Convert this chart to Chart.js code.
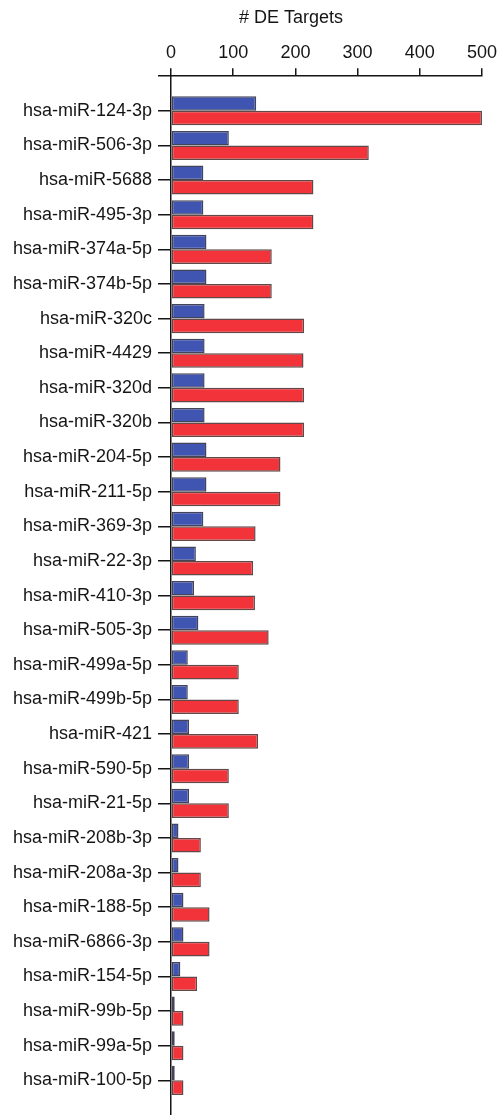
<!DOCTYPE html>
<html>
<head>
<meta charset="utf-8">
<script src="https://cdn.jsdelivr.net/npm/chart.js@4"></script>
<style>
  html, body { margin: 0; padding: 0; background: #fff; }
  #wrap { width: 501px; height: 1115px; position: relative; }
</style>
</head>
<body>
<div id="wrap"><canvas id="deChart"></canvas></div>
<script>
// --- data ---
const mirLabels = ['hsa-miR-124-3p', 'hsa-miR-506-3p', 'hsa-miR-5688', 'hsa-miR-495-3p', 'hsa-miR-374a-5p',
    'hsa-miR-374b-5p', 'hsa-miR-320c', 'hsa-miR-4429', 'hsa-miR-320d', 'hsa-miR-320b', 'hsa-miR-204-5p',
    'hsa-miR-211-5p', 'hsa-miR-369-3p', 'hsa-miR-22-3p', 'hsa-miR-410-3p', 'hsa-miR-505-3p', 'hsa-miR-499a-5p',
    'hsa-miR-499b-5p', 'hsa-miR-421', 'hsa-miR-590-5p', 'hsa-miR-21-5p', 'hsa-miR-208b-3p', 'hsa-miR-208a-3p',
    'hsa-miR-188-5p', 'hsa-miR-6866-3p', 'hsa-miR-154-5p', 'hsa-miR-99b-5p', 'hsa-miR-99a-5p', 'hsa-miR-100-5p'];
const blueValues = [137, 93, 52, 52, 57, 57, 54, 54, 54, 54, 57, 57, 52, 40, 37, 44, 27, 27, 29, 29, 29, 12, 12, 20, 20, 15, 6, 6, 6];
const redValues = [500, 318, 229, 229, 162, 162, 214, 213, 214, 214, 176, 176, 136, 132, 135, 157, 109, 109, 140, 93, 93, 48, 48, 62, 62, 42, 20, 20, 20];
const xTicks = [0, 100, 200, 300, 400, 500];
const axisTitle = '# DE Targets';

const FONT = "'Liberation Sans', Arial, Helvetica, sans-serif";
const INK = '#151515';

// bars sit on a numeric row axis so there is a blank row above and below, as in the figure
const toPoints = vals => vals.map((v, i) => ({ x: v, y: i }));

const ctx = document.getElementById('deChart').getContext('2d');
const deChart = new Chart(ctx, {
    type: 'bar',
    data: {
        datasets: [
            {
                label: 'blue',
                data: toPoints(blueValues),
                backgroundColor: '#4054b2',
                borderColor: 'rgba(35,35,60,0.85)',
                borderWidth: 1.5,
                borderSkipped: false
            },
            {
                label: 'red',
                data: toPoints(redValues),
                backgroundColor: '#f2343a',
                borderColor: 'rgba(70,40,40,0.85)',
                borderWidth: 1.5,
                borderSkipped: false
            }
        ]
    },
    options: {
        indexAxis: 'y',
        responsive: true,
        maintainAspectRatio: false,
        animation: false,
        layout: { padding: { left: 98, right: 17, top: 0, bottom: 0 } },
        datasets: { bar: { categoryPercentage: 0.84, barPercentage: 1.0 } },
        plugins: {
            legend: { display: false },
            tooltip: { enabled: false },
            title: {
                display: true,
                text: axisTitle,
                color: INK,
                font: { family: FONT, size: 18, weight: 'normal' },
                padding: { top: 7, bottom: 10 }
            }
        },
        scales: {
            x: {
                type: 'linear',
                position: 'top',
                min: 0,
                max: 500,
                afterBuildTicks: s => { s.ticks = xTicks.map(v => ({ value: v })); },
                ticks: { color: INK, font: { family: FONT, size: 18 }, padding: 4, maxRotation: 0 },
                grid: { drawOnChartArea: false, drawTicks: true, tickLength: 8, color: INK, lineWidth: 1.5 },
                border: { display: true, color: INK, width: 1.5 }
            },
            y: {
                type: 'linear',
                reverse: true,
                offset: false,
                min: -1,
                max: 29,
                afterBuildTicks: s => {
                    const t = [];
                    for (let i = -1; i < mirLabels.length; i++) t.push({ value: i });
                    s.ticks = t;
                },
                afterFit: s => {
                    s.width = 73;
                    s.paddingTop = 0;
                    s.paddingBottom = 0;
                },
                // long names run out past the narrow axis box, so don't clip them to it
                afterUpdate: s => { s._computeLabelArea = () => undefined; },
                ticks: {
                    color: INK,
                    font: { family: FONT, size: 18 },
                    padding: 6,
                    autoSkip: false,
                    callback: v => (v >= 0 ? mirLabels[v] : '')
                },
                grid: { offset: false, drawOnChartArea: false, drawTicks: true, tickLength: 13, color: INK, lineWidth: 1.5 },
                border: { display: true, color: INK, width: 1.5 }
            }
        }
    }
});
</script>
</body>
</html>
